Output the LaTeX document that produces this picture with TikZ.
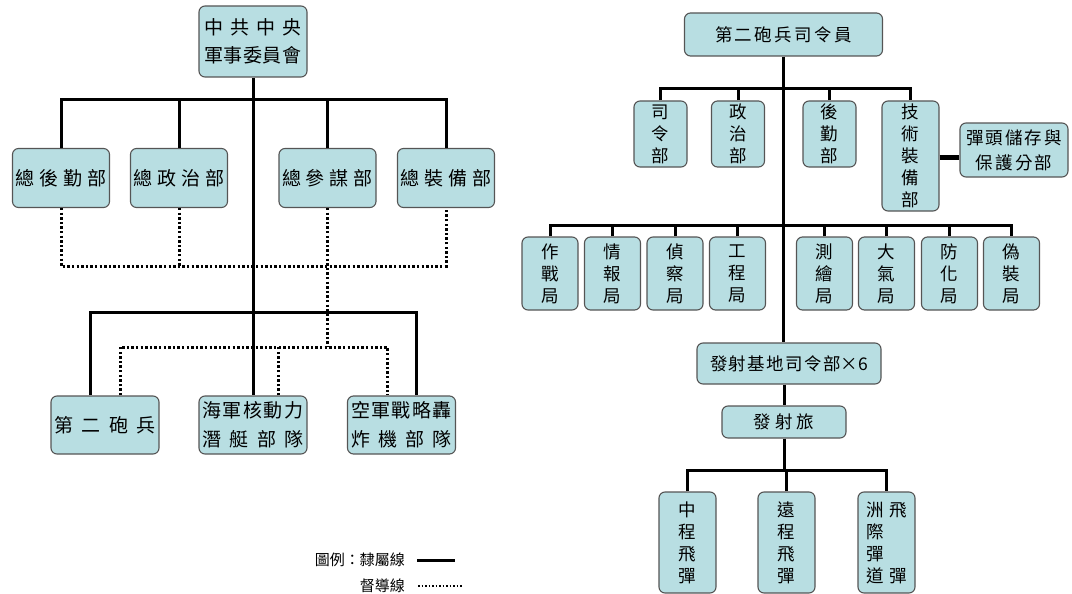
\documentclass[tikz,border=0pt]{standalone}
\usepackage{fontspec}
\newfontfamily\cjk{Noto Sans CJK TC}
\definecolor{boxfill}{RGB}{184,222,226}
\definecolor{boxline}{RGB}{85,85,85}
\newcommand{\spread}[2]{\makebox[#1][s]{#2}}
\tikzset{
  orgbox/.style={draw=boxline, fill=boxfill, rounded corners=6pt, line width=1.1pt, inner sep=0pt, align=center},
  lbox/.style={orgbox, font=\cjk\fontsize{19}{28}\selectfont},
  rbox/.style={orgbox, font=\cjk\fontsize{17.5}{22}\selectfont},
  dept/.style={lbox, minimum width=97pt, minimum height=59pt},
  force/.style={lbox, minimum width=108pt, minimum height=58pt, font=\cjk\fontsize{19}{29}\selectfont},
  office/.style={rbox, minimum width=53pt, minimum height=66pt},
  bureau/.style={rbox, minimum width=56pt, minimum height=73pt},
  missile/.style={rbox, minimum width=57pt, minimum height=101pt},
  tie/.style={line width=3pt},
  guide/.style={line width=3pt, dash pattern=on 2.4pt off 2.2pt},
}
\begin{document}
\begin{tikzpicture}[x=1pt,y=-1pt]
\useasboundingbox (0,0) rectangle (1072,594);

% left: central military commission
\node[lbox, minimum width=108pt, minimum height=71pt] (cmc) at (253,41.5)
  {\spread{97pt}{中\hfill 共\hfill 中\hfill 央}\\\spread{97pt}{軍\hfill 事\hfill 委\hfill 員\hfill 會}};
\node[dept] (zhq) at (61,178) {\spread{91pt}{總\hfill 後\hfill 勤\hfill 部}};
\node[dept] (zzz) at (179,178) {\spread{91pt}{總\hfill 政\hfill 治\hfill 部}};
\node[dept] (zcm) at (327.5,178) {\spread{91pt}{總\hfill 參\hfill 謀\hfill 部}};
\node[dept] (zzb) at (446,178) {\spread{91pt}{總\hfill 裝\hfill 備\hfill 部}};
\node[force] (dep) at (105,425) {\spread{101pt}{第\hfill 二\hfill 砲\hfill 兵}};
\node[force] (hjq) at (253,425)
  {\spread{101pt}{海\hfill 軍\hfill 核\hfill 動\hfill 力}\\\spread{101pt}{潛\hfill 艇\hfill 部\hfill 隊}};
\node[force] (kjz) at (401.5,425)
  {\spread{101pt}{空\hfill 軍\hfill 戰\hfill 略\hfill 轟}\\\spread{101pt}{炸\hfill 機\hfill 部\hfill 隊}};

\coordinate (busA) at (253,100);
\coordinate (busB) at (253,312);
\coordinate (busC) at (253,266);
\coordinate (busD) at (253,347);

\draw[tie] (cmc.south) -- (hjq.north);
\draw[tie] (zhq.north) |- (busA) -| (zzb.north);
\draw[tie] (zzz.north) -- (zzz.north |- busA);
\draw[tie] (zcm.north) -- (zcm.north |- busA);
\draw[tie] ([xshift=-15pt]dep.north) |- (busB) -| ([xshift=15pt]kjz.north);

\draw[guide] (zhq.south) |- (busC) -| (zzb.south);
\draw[guide] (zzz.south) -- (zzz.south |- busC);
\draw[guide] (zcm.south) -- (zcm.south |- busD);
\draw[guide] ([xshift=15pt]dep.north) |- (busD) -| ([xshift=-14pt]kjz.north);
\draw[guide] ([xshift=25pt]hjq.north) -- ([xshift=25pt]hjq.north |- busD);

% legend
\node[anchor=east, inner sep=0pt, font=\cjk\fontsize{15}{18}\selectfont] (lg1) at (405,560) {圖例：隸屬線};
\node[anchor=east, inner sep=0pt, font=\cjk\fontsize{15}{18}\selectfont] (lg2) at (405,586) {督導線};
\coordinate (lg1end) at (455,560);
\coordinate (lg2end) at (462,586);
\draw[line width=3pt] ([xshift=12pt]lg1.east) -- (lg1end);
\draw[line width=1.5pt, dash pattern=on 1.5pt off 2pt] ([xshift=13pt]lg2.east) -- (lg2end);

% right: second artillery
\node[rbox, minimum width=198pt, minimum height=43pt] (cmdr) at (783.5,34.5)
  {\spread{137pt}{第\hfill 二\hfill 砲\hfill 兵\hfill 司\hfill 令\hfill 員}};
\node[office] (sl) at (660.5,134) {司\\令\\部};
\node[office] (zz) at (738,134) {政\\治\\部};
\node[office] (hq) at (829.5,134) {後\\勤\\部};
\node[office, minimum width=57pt, minimum height=110pt] (jz) at (910.5,156) {技\\術\\裝\\備\\部};
\node[rbox, minimum width=108pt, minimum height=54pt, font=\cjk\fontsize{17.5}{25}\selectfont] (dt) at (1014,150)
  {\spread{96pt}{彈\hfill 頭\hfill 儲\hfill 存\hfill 與}\\\spread{77pt}{保\hfill 護\hfill 分\hfill 部}};

\node[bureau] (zzj) at (550,273.5) {作\\戰\\局};
\node[bureau] (qbj) at (612.5,273.5) {情\\報\\局};
\node[bureau] (zcj) at (675,273.5) {偵\\察\\局};
\node[bureau] (gcj) at (737.5,273.5) {工\\程\\局};
\node[bureau] (chj) at (824.5,273.5) {測\\繪\\局};
\node[bureau] (dqj) at (886.5,273.5) {大\\氣\\局};
\node[bureau] (fhj) at (949.5,273.5) {防\\化\\局};
\node[bureau] (wzj) at (1011.5,273.5) {偽\\裝\\局};

\node[rbox, minimum width=184pt, minimum height=41pt] (base) at (789,363.5)
  {\spread{158pt}{發\hfill 射\hfill 基\hfill 地\hfill 司\hfill 令\hfill 部×6}};
\node[rbox, minimum width=124pt, minimum height=32pt] (brig) at (784,422) {\spread{61pt}{發\hfill 射\hfill 旅}};

\node[missile] (zcd) at (687.5,542.5) {中\\程\\飛\\彈};
\node[missile] (ycd) at (786.5,542.5) {遠\\程\\飛\\彈};
\node[missile, align=left] (zjd) at (886.5,542.5) {洲\hspace{6pt}飛\\際\\彈\\道\hspace{6pt}彈};

\coordinate (busR1) at (783,89);
\coordinate (busR2) at (783,225);
\coordinate (busR3) at (783,470);

\draw[tie] (cmdr.south) -- (cmdr.south |- base.north);
\draw[tie] (sl.north) |- (busR1) -| (jz.north);
\draw[tie] (zz.north) -- (zz.north |- busR1);
\draw[tie] (hq.north) -- (hq.north |- busR1);
\draw[line width=5pt] (jz.east |- dt.west) ++(0,7) coordinate (jzdt) -- (dt.west |- jzdt);
\draw[tie] (zzj.north) |- (busR2) -| (wzj.north);
\foreach \b in {qbj,zcj,gcj,chj,dqj,fhj}
  \draw[tie] (\b.north) -- (\b.north |- busR2);
\draw[tie] (brig.north |- base.south) -- (brig.north);
\draw[tie] (brig.south) -- (brig.south |- busR3);
\draw[tie] (zcd.north) |- (busR3) -| (zjd.north);
\draw[tie] (ycd.north) -- (ycd.north |- busR3);
\end{tikzpicture}
\end{document}
